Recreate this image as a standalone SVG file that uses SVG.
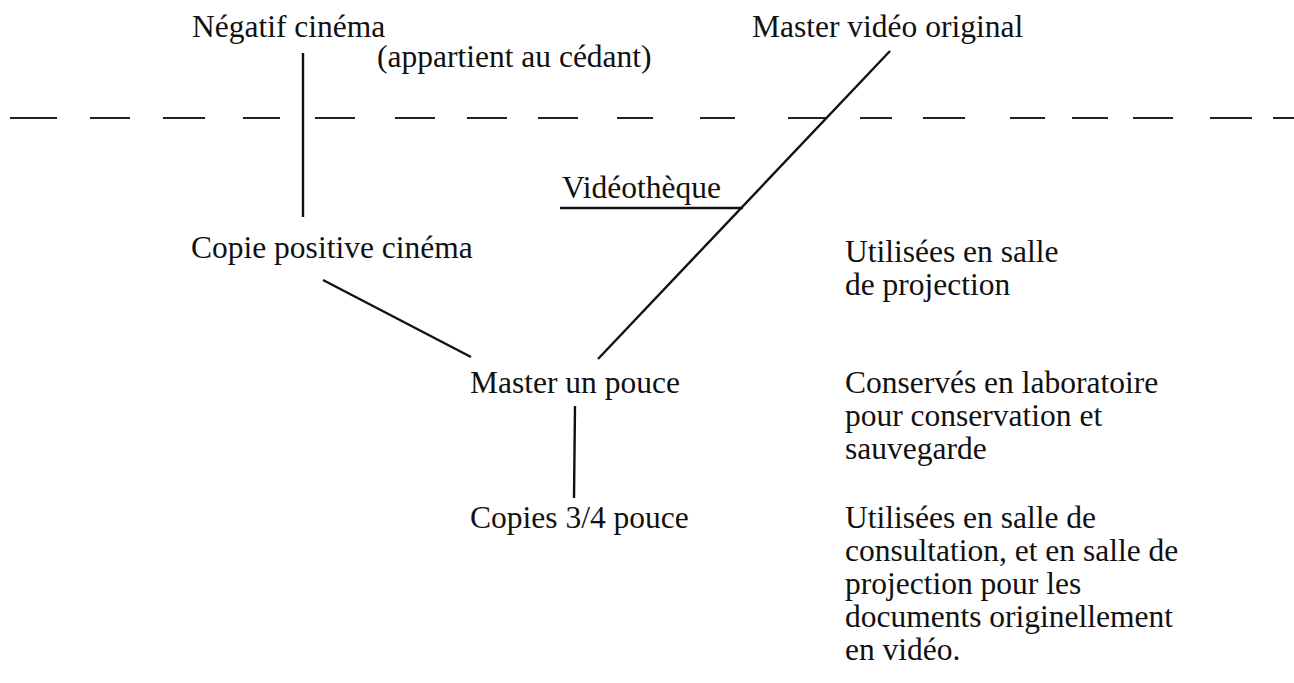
<svg xmlns="http://www.w3.org/2000/svg" width="1294" height="683" viewBox="0 0 1294 683">
<style>
text{font-family:"Liberation Serif","Times New Roman",serif;font-size:31.5px;fill:#111}
.ln{stroke:#111;stroke-width:2.4;fill:none;stroke-linecap:butt}
.dash{stroke:#222;stroke-width:2.2;fill:none}
</style>
<rect width="1294" height="683" fill="#fff"/>
<g id="connectors">
<path class="dash" d="M10 118H57M90 118H130M163 118H205M243 118H280M315 118H355M395 118H435M467 118H507M538 118H578M617 118H653M700 118H735M788 118H826M860 118H892M923 118H965M1010 118H1045M1072 118H1108M1133 118H1173M1210 118H1252M1273 118H1294"/>
<line class="ln" x1="303" y1="53" x2="303" y2="217"/>
<line class="ln" x1="890" y1="51" x2="598" y2="359"/>
<line class="ln" x1="560" y1="208" x2="743" y2="208"/>
<line class="ln" x1="323" y1="280" x2="471" y2="357"/>
<line class="ln" x1="575" y1="406" x2="574" y2="498"/>
</g>
<g id="negatif"><text x="192" y="37">Négatif cinéma</text></g>
<g id="appartient"><text x="377" y="67">(appartient au cédant)</text></g>
<g id="master-video"><text x="752" y="37">Master vidéo original</text></g>
<g id="videotheque"><text x="562" y="198">Vidéothèque</text></g>
<g id="copie-positive"><text x="191" y="258">Copie positive cinéma</text></g>
<g id="note-projection"><text x="845" y="262">Utilisées en salle</text><text x="845" y="295">de projection</text></g>
<g id="master-pouce"><text x="470" y="393">Master un pouce</text></g>
<g id="note-conserves"><text x="845" y="393">Conservés en laboratoire</text><text x="845" y="426">pour conservation et</text><text x="845" y="459">sauvegarde</text></g>
<g id="copies"><text x="470" y="528">Copies 3/4 pouce</text></g>
<g id="note-consultation"><text x="845" y="528">Utilisées en salle de</text><text x="845" y="561">consultation, et en salle de</text><text x="845" y="594">projection pour les</text><text x="845" y="627">documents originellement</text><text x="845" y="660">en vidéo.</text></g>
</svg>
